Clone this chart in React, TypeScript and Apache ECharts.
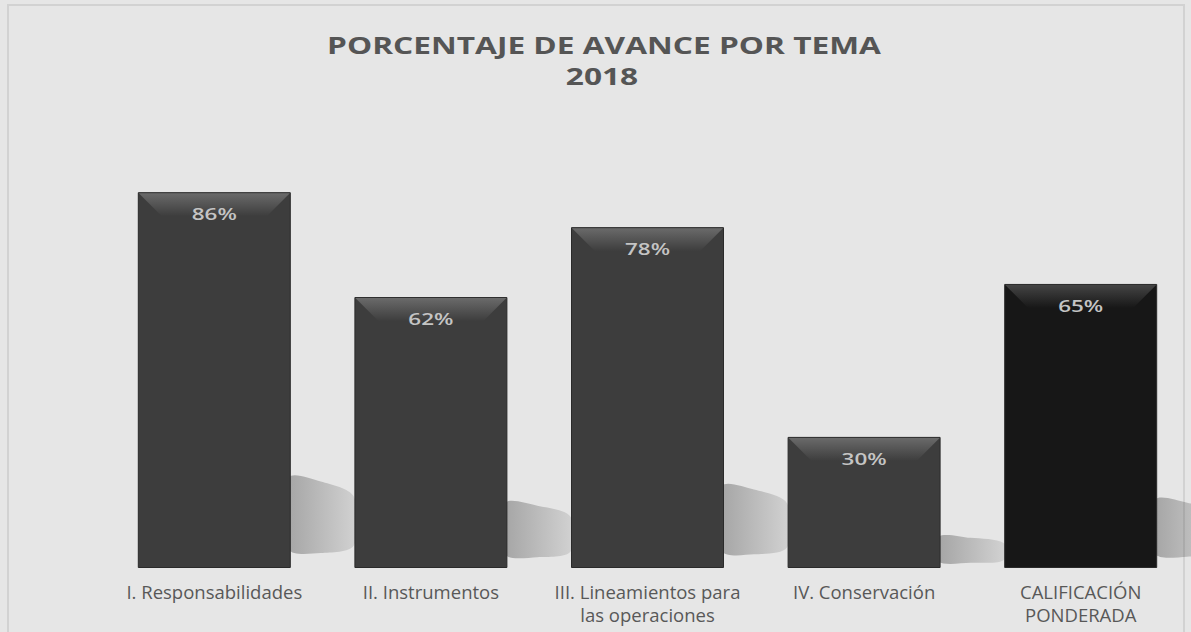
import React, { useEffect, useRef } from "react";
import * as echarts from "echarts";

const categories = [
  "I. Responsabilidades",
  "II. Instrumentos",
  "III. Lineamientos para\nlas operaciones",
  "IV. Conservación",
  "CALIFICACIÓN\nPONDERADA",
];
const values = [0.86, 0.62, 0.78, 0.3, 0.65];
const barColors = ["#3d3d3d", "#3d3d3d", "#3d3d3d", "#3d3d3d", "#171717"];
const bevelColors = ["#6a6a6a", "#6a6a6a", "#6a6a6a", "#6a6a6a", "#444444"];
const titleLines = ["PORCENTAJE DE AVANCE POR TEMA", "2018"];

const BAR_W = 153;

export default function App() {
  const ref = useRef<HTMLDivElement>(null);
  useEffect(() => {
    const chart = echarts.init(ref.current!, undefined, { renderer: "svg" });
    const pairs = values.map((v, i) => [i, v]);
    chart.setOption({
      animation: false,
      backgroundColor: "#e6e6e6",
      graphic: [
        {
          type: "rect",
          shape: { x: 8, y: 5, width: 1176, height: 640 },
          style: { fill: "none", stroke: "#d2d2d2", lineWidth: 2 },
          z: 0,
        },
        {
          type: "text",
          x: 604,
          y: 45,
          scaleX: 1.32,
          style: {
            text: titleLines[0],
            align: "center",
            verticalAlign: "middle",
            font: "bold 24px 'Open Sans'",
            fill: "#555555",
          },
        },
        {
          type: "text",
          x: 602,
          y: 76,
          scaleX: 1.32,
          style: {
            text: titleLines[1],
            align: "center",
            verticalAlign: "middle",
            font: "bold 24px 'Open Sans'",
            fill: "#555555",
          },
        },
      ],
      grid: { left: 106, right: 2, top: 131, bottom: 64, containLabel: false },
      xAxis: {
        type: "category",
        data: categories,
        axisLine: { show: false },
        axisTick: { show: false },
        axisLabel: {
          interval: 0,
          margin: 12,
          fontFamily: "Open Sans",
          fontSize: 18.5,
          color: "#585858",
          lineHeight: 23,
        },
      },
      yAxis: {
        type: "value",
        min: 0,
        max: 1,
        show: false,
        splitLine: { show: false },
      },
      series: [
        {
          type: "custom",
          name: "shadow",
          z: 1,
          silent: true,
          data: pairs,
          renderItem: (params: any, api: any) => {
            const top = api.coord([api.value(0), api.value(1)]);
            const base = api.coord([api.value(0), 0]);
            const h = base[1] - top[1];
            const xr = top[0] + BAR_W / 2;
            const y0 = base[1];
            return {
              type: "polygon",
              shape: {
                smooth: 0.3,
                points: [
                  [xr - 2, y0 - 0.24 * h],
                  [xr + 30, y0 - 0.23 * h],
                  [xr + 63, y0 - 0.19 * h],
                  [xr + 63, y0 - 0.06 * h],
                  [xr + 30, y0 - 0.04 * h],
                  [xr - 2, y0 - 0.05 * h],
                ],
              },
              style: {
                fill: new echarts.graphic.LinearGradient(0, 0, 1, 0, [
                  { offset: 0, color: "rgba(70,70,70,0.42)" },
                  { offset: 1, color: "rgba(70,70,70,0.12)" },
                ]),
              },
            };
          },
        },
        {
          type: "bar",
          z: 2,
          data: values.map((v, i) => ({
            value: v,
            itemStyle: { color: barColors[i] },
          })),
          barWidth: BAR_W,
          itemStyle: { borderColor: "#2a2a2a", borderWidth: 1 },
        },
        {
          type: "custom",
          name: "bevel",
          z: 3,
          silent: true,
          data: pairs,
          renderItem: (params: any, api: any) => {
            const i = api.value(0);
            const v = api.value(1);
            const top = api.coord([i, v]);
            const half = BAR_W / 2;
            const xl = top[0] - half;
            const xr = top[0] + half;
            const yt = top[1];
            const d = 24;
            return {
              type: "group",
              children: [
                {
                  type: "polygon",
                  shape: {
                    points: [
                      [xl + 1, yt + 1],
                      [xr - 1, yt + 1],
                      [xr - d, yt + d],
                      [xl + d, yt + d],
                    ],
                  },
                  style: {
                    fill: new echarts.graphic.LinearGradient(0, 0, 0, 1, [
                      { offset: 0, color: bevelColors[i] },
                      { offset: 1, color: barColors[i] },
                    ]),
                  },
                },
                {
                  type: "text",
                  x: top[0],
                  y: yt + 22,
                  scaleX: 1.45,
                  style: {
                    text: Math.round(v * 100) + "%",
                    align: "center",
                    verticalAlign: "middle",
                    font: "600 15.5px 'Open Sans'",
                    fill: "#c4c4c4",
                  },
                },
              ],
            };
          },
        },
      ],
    });
    return () => chart.dispose();
  }, []);
  return (
    <div
      ref={ref}
      style={{ position: "fixed", left: 0, top: 0, width: 1191, height: 632 }}
    />
  );
}
